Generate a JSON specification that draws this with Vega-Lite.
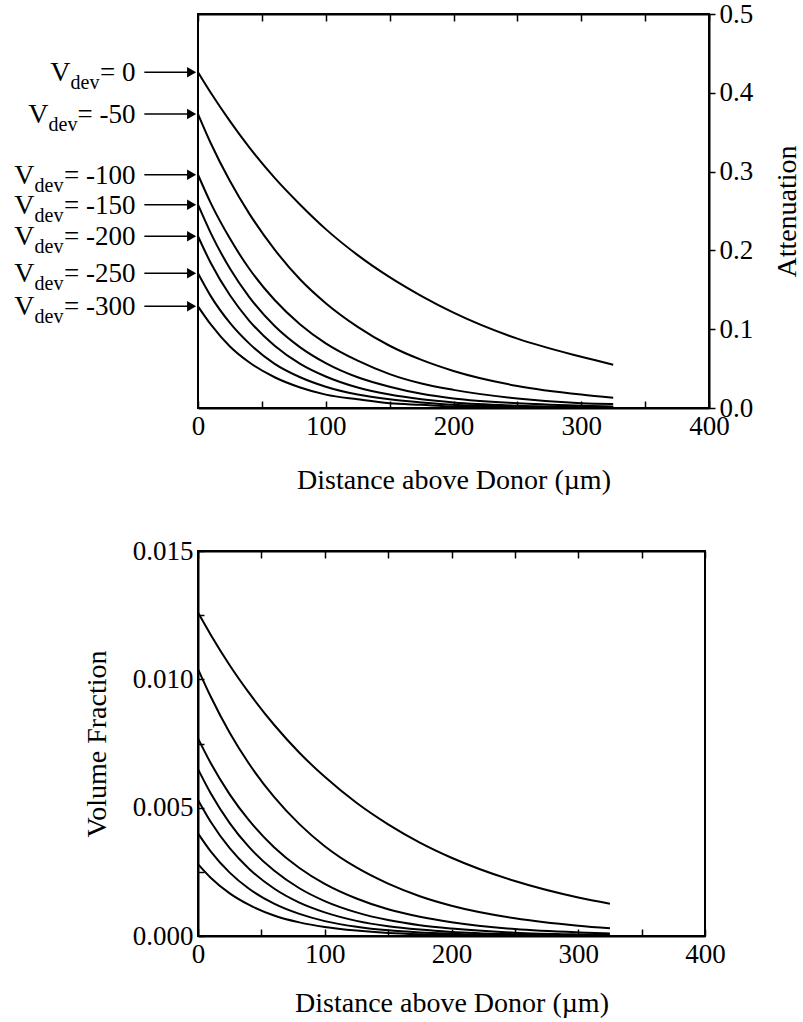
{
  "$schema": "https://vega.github.io/schema/vega-lite/v6.json",
  "padding": {"left": 13, "top": -1, "right": 0, "bottom": 0},
  "bounds": "flush",
  "spacing": 143,
  "config": {
    "font": "Liberation Serif",
    "background": "white",
    "view": {"stroke": "black", "strokeWidth": 2},
    "axis": {
      "labelFont": "Liberation Serif", "titleFont": "Liberation Serif",
      "labelFontSize": 27, "titleFontSize": 28, "titleFontWeight": "normal",
      "labelColor": "black", "titleColor": "black", "domainColor": "black", "tickColor": "black",
      "domainWidth": 2, "tickWidth": 1.5, "grid": false, "labelFlush": false, "labelOverlap": false
    }
  },
  "datasets": {
    "labels": [
      {"v": "0", "eq": "= 0", "a": 0.426},
      {"v": "-50", "eq": "= -50", "a": 0.373},
      {"v": "-100", "eq": "= -100", "a": 0.296},
      {"v": "-150", "eq": "= -150", "a": 0.258},
      {"v": "-200", "eq": "= -200", "a": 0.218},
      {"v": "-250", "eq": "= -250", "a": 0.171},
      {"v": "-300", "eq": "= -300", "a": 0.129}
    ],
    "att": [
      {"v":"0","x":0,"y":0.426},{"v":"0","x":10,"y":0.400},{"v":"0","x":25,"y":0.364},{"v":"0","x":40,"y":0.331},{"v":"0","x":60,"y":0.292},{"v":"0","x":80,"y":0.258},{"v":"0","x":100,"y":0.227},{"v":"0","x":125,"y":0.194},{"v":"0","x":150,"y":0.166},{"v":"0","x":175,"y":0.142},{"v":"0","x":200,"y":0.121},{"v":"0","x":250,"y":0.088},{"v":"0","x":300,"y":0.065},{"v":"0","x":325,"y":0.055},
      {"v":"-50","x":0,"y":0.373},{"v":"-50","x":10,"y":0.336},{"v":"-50","x":25,"y":0.288},{"v":"-50","x":40,"y":0.247},{"v":"-50","x":60,"y":0.201},{"v":"-50","x":80,"y":0.163},{"v":"-50","x":100,"y":0.133},{"v":"-50","x":125,"y":0.103},{"v":"-50","x":150,"y":0.079},{"v":"-50","x":175,"y":0.061},{"v":"-50","x":200,"y":0.047},{"v":"-50","x":250,"y":0.028},{"v":"-50","x":300,"y":0.017},{"v":"-50","x":325,"y":0.013},
      {"v":"-100","x":0,"y":0.296},{"v":"-100","x":10,"y":0.260},{"v":"-100","x":25,"y":0.215},{"v":"-100","x":40,"y":0.177},{"v":"-100","x":60,"y":0.137},{"v":"-100","x":80,"y":0.106},{"v":"-100","x":100,"y":0.082},{"v":"-100","x":125,"y":0.060},{"v":"-100","x":150,"y":0.043},{"v":"-100","x":175,"y":0.031},{"v":"-100","x":200,"y":0.023},{"v":"-100","x":250,"y":0.012},{"v":"-100","x":300,"y":0.006},{"v":"-100","x":325,"y":0.005},
      {"v":"-150","x":0,"y":0.258},{"v":"-150","x":10,"y":0.222},{"v":"-150","x":25,"y":0.177},{"v":"-150","x":40,"y":0.141},{"v":"-150","x":60,"y":0.104},{"v":"-150","x":80,"y":0.077},{"v":"-150","x":100,"y":0.057},{"v":"-150","x":125,"y":0.039},{"v":"-150","x":150,"y":0.027},{"v":"-150","x":175,"y":0.018},{"v":"-150","x":200,"y":0.012},{"v":"-150","x":250,"y":0.006},{"v":"-150","x":300,"y":0.003},{"v":"-150","x":325,"y":0.002},
      {"v":"-200","x":0,"y":0.218},{"v":"-200","x":10,"y":0.184},{"v":"-200","x":25,"y":0.143},{"v":"-200","x":40,"y":0.111},{"v":"-200","x":60,"y":0.079},{"v":"-200","x":80,"y":0.056},{"v":"-200","x":100,"y":0.040},{"v":"-200","x":125,"y":0.026},{"v":"-200","x":150,"y":0.017},{"v":"-200","x":175,"y":0.011},{"v":"-200","x":200,"y":0.007},{"v":"-200","x":250,"y":0.003},{"v":"-200","x":300,"y":0.0013},{"v":"-200","x":325,"y":0.001},
      {"v":"-250","x":0,"y":0.171},{"v":"-250","x":10,"y":0.142},{"v":"-250","x":25,"y":0.108},{"v":"-250","x":40,"y":0.082},{"v":"-250","x":60,"y":0.056},{"v":"-250","x":80,"y":0.039},{"v":"-250","x":100,"y":0.027},{"v":"-250","x":125,"y":0.017},{"v":"-250","x":150,"y":0.011},{"v":"-250","x":175,"y":0.007},{"v":"-250","x":200,"y":0.004},{"v":"-250","x":250,"y":0.002},{"v":"-250","x":300,"y":0.001},{"v":"-250","x":325,"y":0.0005},
      {"v":"-300","x":0,"y":0.129},{"v":"-300","x":10,"y":0.106},{"v":"-300","x":25,"y":0.078},{"v":"-300","x":40,"y":0.058},{"v":"-300","x":60,"y":0.039},{"v":"-300","x":80,"y":0.026},{"v":"-300","x":100,"y":0.017},{"v":"-300","x":125,"y":0.011},{"v":"-300","x":150,"y":0.006},{"v":"-300","x":175,"y":0.004},{"v":"-300","x":200,"y":0.002},{"v":"-300","x":250,"y":0.001},{"v":"-300","x":300,"y":0.0004},{"v":"-300","x":325,"y":0.0003}
    ],
    "vol": [
      {"v":"0","x":0,"y":0.0126},{"v":"0","x":10,"y":0.01174},{"v":"0","x":25,"y":0.01055},{"v":"0","x":40,"y":0.00949},{"v":"0","x":60,"y":0.00823},{"v":"0","x":80,"y":0.00714},{"v":"0","x":100,"y":0.00620},{"v":"0","x":125,"y":0.00519},{"v":"0","x":150,"y":0.00435},{"v":"0","x":175,"y":0.00364},{"v":"0","x":200,"y":0.00305},{"v":"0","x":250,"y":0.00214},{"v":"0","x":300,"y":0.00150},{"v":"0","x":325,"y":0.00126},
      {"v":"-50","x":0,"y":0.0104},{"v":"-50","x":10,"y":0.00933},{"v":"-50","x":25,"y":0.00792},{"v":"-50","x":40,"y":0.00673},{"v":"-50","x":60,"y":0.00542},{"v":"-50","x":80,"y":0.00436},{"v":"-50","x":100,"y":0.00350},{"v":"-50","x":125,"y":0.00267},{"v":"-50","x":150,"y":0.00204},{"v":"-50","x":175,"y":0.00155},{"v":"-50","x":200,"y":0.00118},{"v":"-50","x":250,"y":0.00069},{"v":"-50","x":300,"y":0.00040},{"v":"-50","x":325,"y":0.00030},
      {"v":"-100","x":0,"y":0.0077},{"v":"-100","x":10,"y":0.00674},{"v":"-100","x":25,"y":0.00552},{"v":"-100","x":40,"y":0.00452},{"v":"-100","x":60,"y":0.00346},{"v":"-100","x":80,"y":0.00265},{"v":"-100","x":100,"y":0.00203},{"v":"-100","x":125,"y":0.00146},{"v":"-100","x":150,"y":0.00104},{"v":"-100","x":175,"y":0.00075},{"v":"-100","x":200,"y":0.00054},{"v":"-100","x":250,"y":0.00027},{"v":"-100","x":300,"y":0.00014},{"v":"-100","x":325,"y":0.00010},
      {"v":"-150","x":0,"y":0.0065},{"v":"-150","x":10,"y":0.00556},{"v":"-150","x":25,"y":0.00440},{"v":"-150","x":40,"y":0.00348},{"v":"-150","x":60,"y":0.00255},{"v":"-150","x":80,"y":0.00186},{"v":"-150","x":100,"y":0.00136},{"v":"-150","x":125,"y":0.00092},{"v":"-150","x":150,"y":0.00062},{"v":"-150","x":175,"y":0.00042},{"v":"-150","x":200,"y":0.00029},{"v":"-150","x":250,"y":0.00013},{"v":"-150","x":300,"y":0.00006},{"v":"-150","x":325,"y":0.00004},
      {"v":"-200","x":0,"y":0.0053},{"v":"-200","x":10,"y":0.00445},{"v":"-200","x":25,"y":0.00342},{"v":"-200","x":40,"y":0.00263},{"v":"-200","x":60,"y":0.00185},{"v":"-200","x":80,"y":0.00130},{"v":"-200","x":100,"y":0.00092},{"v":"-200","x":125,"y":0.00059},{"v":"-200","x":150,"y":0.00038},{"v":"-200","x":175,"y":0.00025},{"v":"-200","x":200,"y":0.00016},{"v":"-200","x":250,"y":0.00007},{"v":"-200","x":300,"y":0.00003},{"v":"-200","x":325,"y":0.00002},
      {"v":"-250","x":0,"y":0.0040},{"v":"-250","x":10,"y":0.00330},{"v":"-250","x":25,"y":0.00247},{"v":"-250","x":40,"y":0.00185},{"v":"-250","x":60,"y":0.00126},{"v":"-250","x":80,"y":0.00086},{"v":"-250","x":100,"y":0.00058},{"v":"-250","x":125,"y":0.00036},{"v":"-250","x":150,"y":0.00022},{"v":"-250","x":175,"y":0.00014},{"v":"-250","x":200,"y":0.00009},{"v":"-250","x":250,"y":0.00003},{"v":"-250","x":300,"y":0.00001},{"v":"-250","x":325,"y":0.00001},
      {"v":"-300","x":0,"y":0.0028},{"v":"-300","x":10,"y":0.00227},{"v":"-300","x":25,"y":0.00166},{"v":"-300","x":40,"y":0.00122},{"v":"-300","x":60,"y":0.00080},{"v":"-300","x":80,"y":0.00053},{"v":"-300","x":100,"y":0.00035},{"v":"-300","x":125,"y":0.00021},{"v":"-300","x":150,"y":0.00012},{"v":"-300","x":175,"y":0.00007},{"v":"-300","x":200,"y":0.00004},{"v":"-300","x":250,"y":0.00002},{"v":"-300","x":300,"y":0.00001},{"v":"-300","x":325,"y":0.000005}
    ]
  },
  "vconcat": [
    {
      "width": 511,
      "height": 394,
      "resolve": {"axis": {"x": "independent"}},
      "layer": [
        {
          "data": {"name": "att"},
          "mark": {"type": "line", "color": "black", "strokeWidth": 2, "interpolate": "monotone"},
          "encoding": {
            "x": {"field": "x", "type": "quantitative", "scale": {"domain": [0, 400], "nice": false},
              "axis": {"orient": "bottom", "values": [0, 50, 100, 150, 200, 250, 300, 350, 400], "labelExpr": "datum.value % 100 == 0 ? datum.label : ''", "tickSize": -7, "labelPadding": 12, "title": "Distance above Donor (µm)", "titlePadding": 27}},
            "y": {"field": "y", "type": "quantitative", "scale": {"domain": [0, 0.5], "nice": false},
              "axis": {"orient": "right", "values": [0, 0.1, 0.2, 0.3, 0.4, 0.5], "format": ".1f", "tickSize": 6, "labelPadding": 4, "title": "Attenuation", "titleAngle": 270, "titleBaseline": "top", "titlePadding": 21}},
            "detail": {"field": "v"}
          }
        },
        {
          "data": {"name": "att"},
          "mark": {"type": "line", "strokeOpacity": 0},
          "encoding": {
            "x": {"field": "x", "type": "quantitative", "scale": {"domain": [0, 400], "nice": false},
              "axis": {"orient": "top", "values": [0, 50, 100, 150, 200, 250, 300, 350, 400], "labels": false, "tickSize": -7, "title": null}},
            "y": {"field": "y", "type": "quantitative", "scale": {"domain": [0, 0.5], "nice": false}},
            "detail": {"field": "v"}
          }
        },
        {
          "data": {"name": "labels"},
          "mark": {"type": "rule", "color": "black", "strokeWidth": 1.5},
          "encoding": {
            "x": {"datum": -42, "type": "quantitative", "scale": {"domain": [0, 400], "nice": false}, "axis": null},
            "x2": {"datum": -8},
            "y": {"field": "a", "type": "quantitative", "scale": {"domain": [0, 0.5], "nice": false}}
          }
        },
        {
          "data": {"name": "labels"},
          "mark": {"type": "point", "shape": "triangle-right", "filled": true, "color": "black", "opacity": 1, "size": 110},
          "encoding": {
            "x": {"datum": -5, "type": "quantitative", "scale": {"domain": [0, 400], "nice": false}, "axis": null},
            "y": {"field": "a", "type": "quantitative", "scale": {"domain": [0, 0.5], "nice": false}}
          }
        },
        {
          "data": {"name": "labels"},
          "mark": {"type": "text", "align": "right", "baseline": "alphabetic", "fontSize": 27, "dy": 9, "color": "black"},
          "encoding": {
            "x": {"datum": -49, "type": "quantitative", "scale": {"domain": [0, 400], "nice": false}, "axis": null},
            "y": {"field": "a", "type": "quantitative", "scale": {"domain": [0, 0.5], "nice": false}},
            "text": {"field": "eq"}
          }
        },
        {
          "data": {"name": "labels"},
          "transform": [{"filter": "length(datum.v) == 1"}],
          "mark": {"type": "text", "text": "dev", "align": "right", "baseline": "alphabetic", "fontSize": 20, "dx": -36, "dy": 17, "color": "black"},
          "encoding": {
            "x": {"datum": -49, "type": "quantitative", "scale": {"domain": [0, 400], "nice": false}, "axis": null},
            "y": {"field": "a", "type": "quantitative", "scale": {"domain": [0, 0.5], "nice": false}}
          }
        },
        {
          "data": {"name": "labels"},
          "transform": [{"filter": "length(datum.v) == 3"}],
          "mark": {"type": "text", "text": "dev", "align": "right", "baseline": "alphabetic", "fontSize": 20, "dx": -58, "dy": 17, "color": "black"},
          "encoding": {
            "x": {"datum": -49, "type": "quantitative", "scale": {"domain": [0, 400], "nice": false}, "axis": null},
            "y": {"field": "a", "type": "quantitative", "scale": {"domain": [0, 0.5], "nice": false}}
          }
        },
        {
          "data": {"name": "labels"},
          "transform": [{"filter": "length(datum.v) == 4"}],
          "mark": {"type": "text", "text": "dev", "align": "right", "baseline": "alphabetic", "fontSize": 20, "dx": -72, "dy": 17, "color": "black"},
          "encoding": {
            "x": {"datum": -49, "type": "quantitative", "scale": {"domain": [0, 400], "nice": false}, "axis": null},
            "y": {"field": "a", "type": "quantitative", "scale": {"domain": [0, 0.5], "nice": false}}
          }
        },
        {
          "data": {"name": "labels"},
          "transform": [{"filter": "length(datum.v) == 1"}],
          "mark": {"type": "text", "text": "V", "align": "right", "baseline": "alphabetic", "fontSize": 28, "dx": -65, "dy": 9, "color": "black"},
          "encoding": {
            "x": {"datum": -49, "type": "quantitative", "scale": {"domain": [0, 400], "nice": false}, "axis": null},
            "y": {"field": "a", "type": "quantitative", "scale": {"domain": [0, 0.5], "nice": false}}
          }
        },
        {
          "data": {"name": "labels"},
          "transform": [{"filter": "length(datum.v) == 3"}],
          "mark": {"type": "text", "text": "V", "align": "right", "baseline": "alphabetic", "fontSize": 28, "dx": -87, "dy": 9, "color": "black"},
          "encoding": {
            "x": {"datum": -49, "type": "quantitative", "scale": {"domain": [0, 400], "nice": false}, "axis": null},
            "y": {"field": "a", "type": "quantitative", "scale": {"domain": [0, 0.5], "nice": false}}
          }
        },
        {
          "data": {"name": "labels"},
          "transform": [{"filter": "length(datum.v) == 4"}],
          "mark": {"type": "text", "text": "V", "align": "right", "baseline": "alphabetic", "fontSize": 28, "dx": -101, "dy": 9, "color": "black"},
          "encoding": {
            "x": {"datum": -49, "type": "quantitative", "scale": {"domain": [0, 400], "nice": false}, "axis": null},
            "y": {"field": "a", "type": "quantitative", "scale": {"domain": [0, 0.5], "nice": false}}
          }
        }
      ]
    },
    {
      "width": 507,
      "height": 385,
      "resolve": {"axis": {"x": "independent"}},
      "layer": [
        {
          "data": {"name": "vol"},
          "mark": {"type": "line", "color": "black", "strokeWidth": 2, "interpolate": "monotone"},
          "encoding": {
            "x": {"field": "x", "type": "quantitative", "scale": {"domain": [0, 400], "nice": false},
              "axis": {"orient": "bottom", "values": [0, 50, 100, 150, 200, 250, 300, 350, 400], "labelExpr": "datum.value % 100 == 0 ? datum.label : ''", "tickSize": -7, "labelPadding": 12, "title": "Distance above Donor (µm)", "titlePadding": 22}},
            "y": {"field": "y", "type": "quantitative", "scale": {"domain": [0, 0.015], "nice": false},
              "axis": {"orient": "left", "values": [0, 0.0025, 0.005, 0.0075, 0.01, 0.0125, 0.015], "labelExpr": "abs(datum.value * 200 - round(datum.value * 200)) < 0.001 ? format(datum.value, '.3f') : ''", "tickSize": -6, "labelPadding": 11, "title": "Volume Fraction", "titlePadding": 21}},
            "detail": {"field": "v"}
          }
        },
        {
          "data": {"name": "vol"},
          "mark": {"type": "line", "strokeOpacity": 0},
          "encoding": {
            "x": {"field": "x", "type": "quantitative", "scale": {"domain": [0, 400], "nice": false},
              "axis": {"orient": "top", "values": [0, 50, 100, 150, 200, 250, 300, 350, 400], "labels": false, "tickSize": -7, "title": null}},
            "y": {"field": "y", "type": "quantitative", "scale": {"domain": [0, 0.015], "nice": false}},
            "detail": {"field": "v"}
          }
        }
      ]
    }
  ]
}
